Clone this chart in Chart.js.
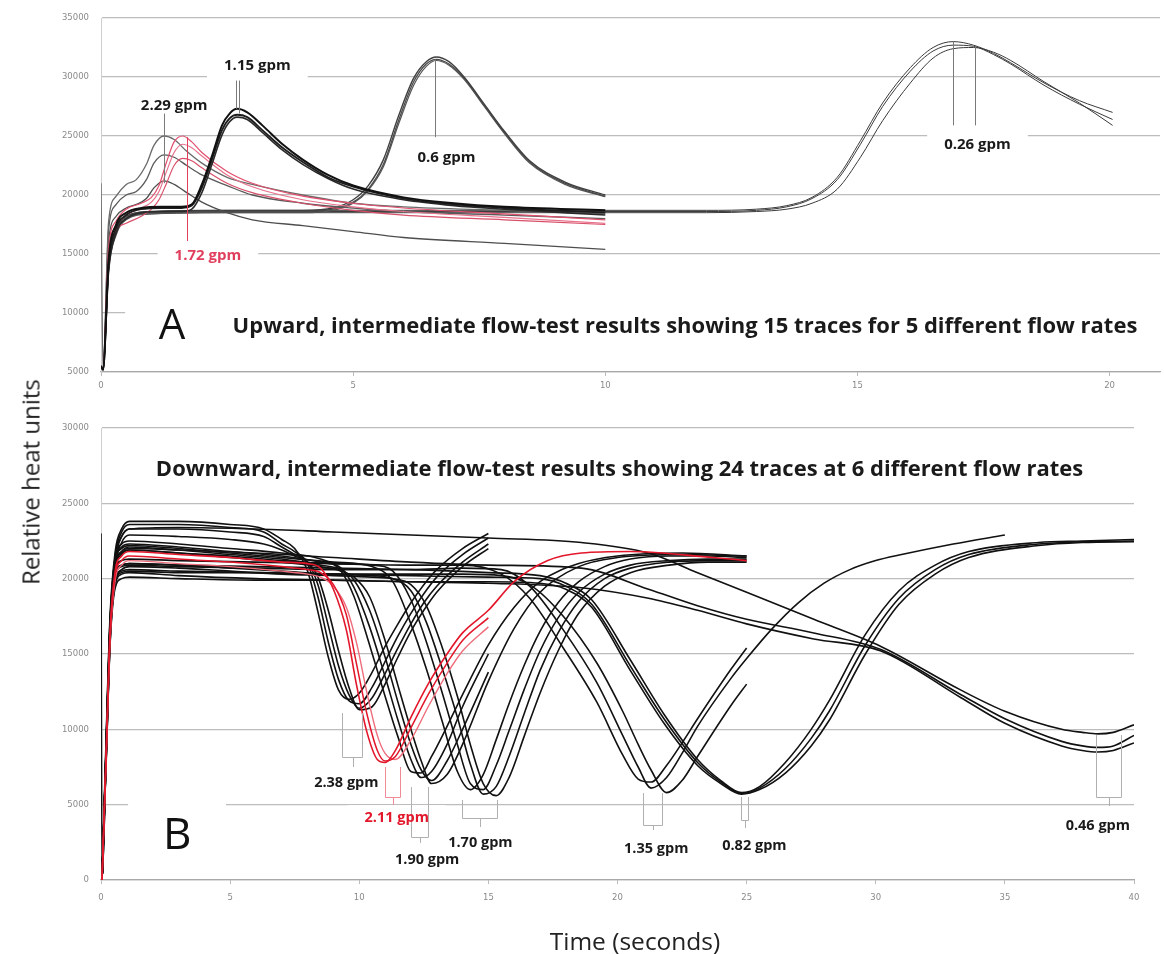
<!DOCTYPE html>
<html>
<head>
<meta charset="utf-8">
<script src="https://cdn.jsdelivr.net/npm/chart.js@4.4.1/dist/chart.umd.min.js"></script>
<style>
html,body{margin:0;padding:0;background:#fff;}
#wrap{position:relative;width:1164px;height:954px;overflow:hidden;background:#fff;}
#cTop{position:absolute;left:0;top:0;width:1164px;height:400px;}
#cBot{position:absolute;left:0;top:400px;width:1164px;height:554px;}
#ytitle{position:absolute;left:30px;top:482px;transform:translate(-50%,-50%) rotate(-90deg);font-family:'Open Sans',sans-serif;font-size:24px;color:#222;white-space:nowrap;}
#xtitle{position:absolute;left:635px;top:940px;transform:translate(-50%,-50%);font-family:'Open Sans',sans-serif;font-size:24.5px;color:#222;white-space:nowrap;}
</style>
</head>
<body>
<div id="wrap">
<canvas id="cTop" width="1164" height="400"></canvas>
<canvas id="cBot" width="1164" height="554"></canvas>
<div id="ytitle">Relative heat units</div>
<div id="xtitle">Time (seconds)</div>
</div>
<script>
// ---------------- Axis ticks ----------------
const topXTicks = [0, 5, 10, 15, 20];
const topYTicks = [5000, 10000, 15000, 20000, 25000, 30000, 35000];
const botXTicks = [0, 5, 10, 15, 20, 25, 30, 35, 40];
const botYTicks = [0, 5000, 10000, 15000, 20000, 25000, 30000];

// ---------------- Panel A: upward flow (15 traces, 5 flow rates) ----------------
const tUp229 = [0, 0.04, 0.15, 0.3, 0.5, 0.7, 0.9, 1.05, 1.25, 1.45, 1.7, 2.0, 2.5, 3.0, 4.0, 5.0, 6.0, 8.0, 10.0];
const up229a = [21000, 5200, 17700, 19900, 20900, 21300, 22600, 24200, 25000, 24700, 23700, 22700, 21500, 20900, 20000, 19300, 19000, 18700, 18400];
const up229b = [5500, 5300, 17000, 19200, 20000, 20300, 21300, 22700, 23400, 23200, 22500, 21700, 20800, 20000, 19300, 18900, 18600, 18300, 18000];
const up229c = [5500, 5200, 16000, 18200, 18900, 19200, 19700, 20600, 21200, 20900, 20200, 19400, 18500, 17900, 17400, 16900, 16400, 15900, 15400];

const tUp172 = [0, 0.04, 0.15, 0.3, 0.5, 0.8, 1.0, 1.15, 1.3, 1.45, 1.62, 1.8, 2.0, 2.5, 3.0, 4.0, 5.0, 6.0, 8.0, 10.0];
const up172a = [5500, 5200, 15500, 17800, 18800, 19300, 19800, 20800, 22800, 24500, 25000, 24500, 23600, 22000, 21000, 19900, 19300, 18900, 18400, 17900];
const up172b = [5500, 5200, 15000, 17400, 18300, 18900, 19400, 20300, 22000, 23600, 24300, 24000, 23300, 21700, 20700, 19600, 19000, 18600, 18100, 17600];
const up172c = [5500, 5200, 14500, 17000, 17600, 18200, 18800, 19600, 21000, 22500, 23100, 22900, 22300, 21000, 20200, 19300, 18700, 18300, 17900, 17500];

const tUp115 = [0, 0.04, 0.15, 0.3, 0.5, 0.8, 1.2, 1.6, 1.8, 2.0, 2.2, 2.4, 2.55, 2.7, 2.9, 3.2, 3.6, 4.0, 4.5, 5.0, 6.0, 7.0, 8.0, 10.0];
const up115a = [5500, 5200, 14500, 17500, 18500, 18900, 19000, 19000, 19200, 20900, 23300, 25900, 26900, 27300, 27000, 25900, 24300, 23000, 21700, 20800, 19800, 19300, 19000, 18700];
const up115b = [5500, 5200, 14000, 17200, 18300, 18800, 18900, 18900, 19100, 20600, 23000, 25500, 26500, 26800, 26600, 25500, 24000, 22800, 21500, 20700, 19700, 19200, 18900, 18500];
const up115c = [5500, 5200, 13500, 16800, 18000, 18500, 18600, 18600, 18800, 20200, 22600, 25100, 26200, 26600, 26400, 25300, 23800, 22600, 21400, 20500, 19600, 19100, 18800, 18300];

const tUp060 = [0, 0.04, 0.15, 0.3, 0.5, 1.0, 2.0, 3.0, 4.0, 4.6, 5.0, 5.3, 5.6, 5.9, 6.2, 6.45, 6.65, 6.9, 7.2, 7.6, 8.0, 8.5, 9.2, 10.0];
const up060a = [5500, 5200, 14000, 17000, 18200, 18600, 18700, 18700, 18700, 18900, 19600, 20800, 23000, 26700, 29900, 31300, 31700, 31300, 30000, 27700, 25400, 22900, 21100, 20000];
const up060b = [5500, 5200, 13800, 16800, 18000, 18500, 18600, 18600, 18600, 18800, 19400, 20500, 22600, 26300, 29600, 31100, 31500, 31100, 29900, 27600, 25300, 22800, 21000, 19900];
const up060c = [5500, 5200, 13500, 16600, 17900, 18400, 18500, 18500, 18500, 18700, 19300, 20400, 22400, 26000, 29300, 30900, 31400, 31000, 29800, 27500, 25200, 22700, 20900, 19850];

const tUp026 = [0, 0.04, 0.15, 0.3, 0.5, 1.0, 3, 6, 9, 12, 13, 13.6, 14.1, 14.6, 15.06, 15.5, 16.05, 16.5, 16.9, 17.3, 17.7, 18.04, 18.7, 19.4, 20.06];
const up026a = [5500, 5200, 14000, 17000, 18200, 18600, 18700, 18700, 18700, 18700, 18800, 19100, 19800, 21500, 24600, 27800, 30800, 32500, 33000, 32700, 32000, 31200, 29500, 28000, 27000];
const up026b = [5500, 5200, 13800, 16900, 18100, 18500, 18600, 18600, 18600, 18600, 18700, 19000, 19700, 21300, 24300, 27500, 30500, 32200, 32700, 32600, 31900, 31100, 29300, 27700, 26400];
const up026c = [5500, 5200, 13600, 16700, 18000, 18400, 18500, 18500, 18500, 18500, 18600, 18800, 19300, 20500, 23200, 26300, 29500, 31600, 32400, 32500, 32100, 31400, 29600, 27800, 25900];

// ---------------- Panel B: downward flow (24 traces) ----------------
const tDn238 = [0.04, 0.2, 0.35, 0.55, 0.8, 1.1, 3, 5, 6.3, 7.0, 7.5, 8.0, 8.4, 8.8, 9.2, 9.6, 10.0, 10.5, 11.0, 11.5, 12.0, 12.5, 13.0, 14.0, 15.0];
const dn238a = [0, 9500, 17500, 21800, 23300, 23800, 23800, 23600, 23300, 22600, 22000, 20500, 17800, 14800, 12600, 12000, 12400, 13800, 15500, 17000, 18400, 19600, 20600, 22000, 23000];
const dn238b = [0, 9000, 17000, 21500, 23100, 23600, 23600, 23400, 23100, 22300, 21800, 21000, 18800, 15800, 13300, 11900, 11700, 12800, 14500, 16200, 17700, 19000, 20100, 21600, 22700];
const dn238c = [0, 8800, 16800, 21200, 22800, 23300, 23300, 23100, 22800, 22100, 21600, 21100, 19600, 16900, 14200, 12300, 11400, 12100, 13700, 15400, 17000, 18400, 19500, 21100, 22300];
const dn238d = [0, 8500, 16500, 20900, 22400, 22900, 22800, 22600, 22300, 21900, 21500, 21100, 20100, 17900, 15200, 12800, 11300, 11500, 13000, 14800, 16500, 17900, 19100, 20800, 22000];

const tDn211 = [0.04, 0.2, 0.35, 0.55, 0.8, 1.1, 3, 5, 7, 8.0, 8.5, 9.0, 9.5, 9.9, 10.3, 10.7, 11.0, 11.4, 12.0, 12.7, 13.4, 14.0, 15.0, 16.0, 17.3, 18.6, 20.5, 23.7, 25.0];
const dn211a = [0, 8500, 16500, 20500, 21500, 21800, 21600, 21400, 21100, 21000, 20700, 19300, 16600, 12900, 9800, 8000, 7800, 8600, 10800, 13100, 15000, 16400, 17900, 19800, 21200, 21700, 21800, 21400, 21200];
const dn211b = [0, 8200, 16000, 20200, 21200, 21500, 21300, 21100, 20800, 20600, 20400, 19600, 17600, 14300, 11000, 8600, 7900, 8200, 10100, 12400, 14400, 15900, 17400];
const dn211c = [0, 8000, 15800, 19900, 20900, 21200, 21000, 20800, 20500, 20300, 20100, 19500, 18100, 15700, 12400, 9600, 8400, 8000, 9300, 11600, 13700, 15200, 16800];

const tDn190 = [0.04, 0.2, 0.35, 0.55, 0.8, 1.1, 3, 5, 7, 8.5, 9.3, 9.8, 10.4, 11.0, 11.5, 12.0, 12.4, 12.8, 13.4, 14.0, 15.0, 16.0, 17.0, 18.5, 20.0, 22.5, 25.0];
const dn190a = [0, 9000, 17000, 21300, 22300, 22500, 22300, 22000, 21700, 21300, 20500, 18800, 15600, 12200, 9500, 7200, 7100, 8200, 10200, 12300, 15600, 18100, 19800, 21000, 21500, 21700, 21500];
const dn190b = [0, 8800, 16800, 21000, 22100, 22300, 22100, 21800, 21500, 21100, 20700, 19400, 16800, 13500, 10600, 8000, 6800, 7200, 9000, 11500, 15000];
const dn190c = [0, 8600, 16500, 20800, 21800, 22100, 21900, 21600, 21300, 20900, 20600, 19900, 17900, 14800, 11800, 9000, 7300, 6600, 7900, 10000, 13800];
const dn190d = [0, 8400, 16300, 20600, 21600, 21900, 21700, 21400, 21100, 20800, 20500, 20100, 18800, 15900, 12900, 10000, 7900, 6400, 7000, 9000, 13200, 16700, 19100, 20800, 21400, 21600, 21500];

const tDn170 = [0.04, 0.2, 0.35, 0.55, 0.8, 1.1, 3, 5, 7, 9, 10.5, 11.3, 12.0, 12.6, 13.2, 13.8, 14.3, 14.8, 15.3, 15.8, 16.4, 17.0, 17.7, 18.5, 19.5, 20.5, 22.0, 23.5, 25.0];
const dn170a = [0, 8700, 16800, 21100, 22000, 22200, 22000, 21700, 21400, 21100, 20800, 19800, 17000, 14000, 10600, 7200, 6000, 7000, 9300, 11700, 14300, 16500, 18400, 19800, 20800, 21300, 21500, 21500, 21400];
const dn170b = [0, 8500, 16500, 20800, 21700, 21900, 21700, 21500, 21200, 21000, 20900, 20500, 18600, 15800, 12500, 9000, 6400, 6000, 7600, 9900, 12700, 15200, 17400, 19100, 20300, 20900, 21200, 21300, 21300];
const dn170c = [0, 8200, 16000, 20000, 20900, 21000, 20900, 20700, 20500, 20300, 20200, 20000, 19200, 17100, 14100, 10800, 7700, 5700, 6200, 8200, 11100, 13900, 16400, 18500, 20000, 20700, 21100, 21200, 21200];
const dn170d = [0, 8000, 15700, 19800, 20600, 20800, 20700, 20500, 20300, 20200, 20100, 20000, 19600, 18200, 15500, 12200, 9000, 6400, 5600, 6800, 9600, 12400, 15200, 17700, 19500, 20400, 20900, 21100, 21100];

const tDn135 = [0.04, 0.2, 0.35, 0.55, 0.8, 1.1, 3, 6, 9, 12, 14, 15.5, 16.6, 17.9, 19.2, 20.2, 20.8, 21.3, 21.9, 22.5, 23.1, 24.4, 25.0, 26.0, 27.0, 28.0, 29.0, 30.0, 31.0, 33.0, 35.0];
const dn135a = [0, 8600, 16600, 20600, 21200, 21300, 21200, 21100, 21000, 20900, 20900, 20300, 18700, 15400, 11800, 8300, 6700, 6500, 7600, 9100, 10700, 14000, 15400];
const dn135b = [0, 8300, 16200, 20200, 20800, 20900, 20800, 20700, 20600, 20600, 20700, 20600, 19500, 16600, 13100, 9600, 7500, 6100, 6800, 8400, 10200, 13400, 14700, 16700, 18400, 19700, 20600, 21200, 21600, 22300, 22900];
const dn135c = [0, 8000, 15800, 19800, 20400, 20500, 20400, 20400, 20300, 20300, 20300, 20200, 19600, 17500, 14400, 11200, 9000, 7300, 5800, 6600, 8200, 11600, 13000];

const tDn082 = [0.04, 0.2, 0.35, 0.55, 0.8, 1.1, 3, 6, 9, 12, 15, 17, 18, 19, 20.5, 21.8, 23.1, 24.0, 24.8, 25.5, 26.5, 27.5, 28.2, 29.6, 30.9, 32.3, 33.6, 36.3, 38, 40];
const dn082a = [0, 8400, 16400, 20300, 20900, 21000, 20900, 20800, 20700, 20600, 20400, 20200, 19700, 18600, 14600, 11000, 8000, 6600, 5800, 6200, 7800, 10000, 11900, 16300, 19200, 20900, 21800, 22400, 22500, 22600];
const dn082b = [0, 8100, 16000, 19900, 20500, 20600, 20500, 20400, 20300, 20200, 20100, 20000, 19500, 18300, 14200, 10700, 7800, 6500, 5750, 6100, 7400, 9400, 11200, 15600, 18700, 20600, 21600, 22300, 22450, 22500];
const dn082c = [0, 7800, 15600, 19400, 20000, 20100, 20000, 19900, 19900, 19800, 19800, 19700, 19300, 18100, 13900, 10400, 7600, 6400, 5700, 6000, 7100, 8900, 10600, 15000, 18300, 20300, 21400, 22200, 22400, 22450];

const tDn046 = [0, 0.04, 0.2, 0.35, 0.55, 0.8, 1.1, 3, 6, 9, 12, 15, 18.6, 21.2, 23.1, 25, 27.6, 30.2, 33.3, 35, 37.2, 38, 38.6, 39.2, 40];
const dn046a = [23000, 0, 9200, 17200, 21500, 22800, 23300, 23400, 23300, 23100, 22900, 22700, 22400, 21700, 20400, 19100, 17300, 15500, 12600, 11200, 10000, 9800, 9700, 9800, 10300];
const dn046b = [0, 0, 8800, 16800, 20800, 21800, 22000, 21900, 21700, 21400, 21100, 20900, 20700, 19300, 18200, 17300, 16400, 15300, 12300, 10700, 9200, 8900, 8800, 8900, 9600];
const dn046c = [0, 0, 8400, 16200, 19600, 20300, 20400, 20200, 20000, 19900, 19800, 19700, 19400, 18700, 17900, 17000, 16000, 15200, 12100, 10400, 8900, 8600, 8500, 8600, 9100];

// ---------------- Annotations ----------------
const topLabelText = ['2.29 gpm', '1.15 gpm', '1.72 gpm', '0.6 gpm', '0.26 gpm'];
const topLabelX = [1.45, 3.10, 2.12, 6.85, 17.38];
const topLabelY = [27540, 30930, 14830, 23130, 24240];
const topLeaderX = [1.25, 2.67, 2.73, 1.71, 6.63, 16.9, 17.34];
const topLeaderY0 = [26900, 29700, 29700, 24900, 31500, 33000, 32600];
const topLeaderY1 = [21000, 27300, 26900, 16100, 24900, 25900, 25900];

const botLabelText = ['2.38 gpm', '2.11 gpm', '1.90 gpm', '1.70 gpm', '1.35 gpm', '0.82 gpm', '0.46 gpm'];
const botLabelX = [9.5, 11.45, 12.63, 14.69, 21.5, 25.3, 38.6];
const botLabelY = [6440, 4110, 1330, 2460, 2060, 2260, 3580];
const botBracketX0 = [9.34, 11.01, 12.02, 13.99, 21.0, 24.77, 38.53];
const botBracketX1 = [10.12, 11.59, 12.67, 15.35, 21.74, 25.04, 39.5];
const botBracketTop = [11080, 7500, 6170, 5310, 5770, 5510, 9620];
const botBracketBot = [8160, 5510, 2850, 4110, 3650, 3980, 5510];
const botBracketStem = [7500, 4980, 2460, 3520, 3320, 3450, 4910];

const titleA = 'Upward, intermediate flow-test results showing 15 traces for 5 different flow rates';
const titleB = 'Downward, intermediate flow-test results showing 24 traces at 6 different flow rates';

// ---------------- Helpers ----------------
const RED = '#e3172b';
function series(times, vals, color, width) {
  return {
    data: vals.map((v, i) => ({ x: times[i], y: v })),
    borderColor: color, borderWidth: width, pointRadius: 0, fill: false,
    cubicInterpolationMode: 'monotone'
  };
}

const tickFont = { family: 'DejaVu Sans', size: 8.5 };
const tickColor = '#8a8a8a';

function scales(xMax, xTicks, yMin, yMax, yTicks, xAxisH, xPad) {
  return {
    x: {
      type: 'linear', min: 0, max: xMax,
      afterBuildTicks: s => { s.ticks = xTicks.map(v => ({ value: v })); },
      ticks: { font: tickFont, color: tickColor, padding: xPad, maxRotation: 0, autoSkip: false },
      grid: { drawOnChartArea: false, drawTicks: true, tickLength: 4, color: '#bbbbbb' },
      border: { display: true, color: '#a8a8a8', width: 1.2 },
      afterFit: s => { s.height = xAxisH; }
    },
    y: {
      type: 'linear', min: yMin, max: yMax,
      afterBuildTicks: s => { s.ticks = yTicks.map(v => ({ value: v })); },
      ticks: { font: tickFont, color: tickColor, padding: 12, callback: v => String(v) },
      grid: { color: '#bdbdbd', lineWidth: 1.3, drawTicks: false },
      border: { display: true, color: '#cfcfcf', width: 1 },
      afterFit: s => { s.width = 101; }
    }
  };
}

function makeAnnot(cfg) {
  return {
    id: 'annot' + cfg.name,
    beforeDatasetsDraw(chart) {
      const ctx = chart.ctx, xs = chart.scales.x, ys = chart.scales.y;
      const px = v => xs.getPixelForValue(v), py = v => ys.getPixelForValue(v);
      ctx.save();
      ctx.fillStyle = '#ffffff';
      cfg.boxes.forEach(b => {
        const x1 = px(b[0]), x2 = px(b[1]), y1 = py(b[2]), y2 = py(b[3]);
        ctx.fillRect(Math.min(x1, x2), Math.min(y1, y2), Math.abs(x2 - x1), Math.abs(y2 - y1));
      });
      ctx.font = cfg.labelFont;
      cfg.labels.forEach(l => {
        const w = ctx.measureText(l.text).width + 34;
        ctx.fillRect(px(l.x) - w / 2, py(l.y) - 13, w, 26);
      });
      ctx.restore();
    },
    afterDatasetsDraw(chart) {
      const ctx = chart.ctx, xs = chart.scales.x, ys = chart.scales.y;
      const px = v => xs.getPixelForValue(v), py = v => ys.getPixelForValue(v);
      ctx.save();
      ctx.lineWidth = 1;
      cfg.leaders.forEach(l => {
        ctx.strokeStyle = l.color;
        ctx.beginPath();
        ctx.moveTo(Math.round(px(l.x)) + 0.5, py(l.y0));
        ctx.lineTo(Math.round(px(l.x)) + 0.5, py(l.y1));
        ctx.stroke();
      });
      cfg.brackets.forEach(b => {
        const xl = Math.round(px(b.x0)) + 0.5, xr = Math.round(px(b.x1)) + 0.5;
        const yt = py(b.top), yb = Math.round(py(b.bot)) + 0.5, ysm = py(b.stem);
        const xm = Math.round((xl + xr) / 2) + 0.5;
        ctx.strokeStyle = b.color;
        ctx.beginPath();
        ctx.moveTo(xl, yt); ctx.lineTo(xl, yb); ctx.lineTo(xr, yb); ctx.lineTo(xr, yt);
        ctx.moveTo(xm, yb); ctx.lineTo(xm, ysm);
        ctx.stroke();
      });
      ctx.textAlign = 'center';
      ctx.textBaseline = 'middle';
      ctx.font = cfg.labelFont;
      cfg.labels.forEach(l => {
        ctx.fillStyle = l.color;
        ctx.fillText(l.text, px(l.x), py(l.y));
      });
      // big panel letter
      ctx.fillStyle = '#111';
      ctx.font = cfg.letterFont;
      ctx.fillText(cfg.letter.text, px(cfg.letter.x), py(cfg.letter.y));
      // title fitted to its width
      ctx.font = "bold 20px 'Open Sans'";
      const w = ctx.measureText(cfg.title.text).width;
      const size = 20 * cfg.title.width / w;
      ctx.font = "bold " + size.toFixed(2) + "px 'Open Sans'";
      ctx.fillStyle = '#1a1a1a';
      ctx.fillText(cfg.title.text, px(cfg.title.x), py(cfg.title.y));
      ctx.restore();
    }
  };
}

// ---------------- Panel A ----------------
const topDatasets = [
  series(tUp115, up115a, '#111111', 2.0),
  series(tUp115, up115b, '#1e1e1e', 1.8),
  series(tUp115, up115c, '#2a2a2a', 1.6),
  series(tUp172, up172a, '#e2506e', 1.2),
  series(tUp172, up172b, '#e8738d', 1.2),
  series(tUp172, up172c, '#d9506a', 1.2),
  series(tUp229, up229a, '#6a6a6a', 1.3),
  series(tUp229, up229b, '#5a5a5a', 1.3),
  series(tUp229, up229c, '#4e4e4e', 1.3),
  series(tUp060, up060a, '#404040', 1.4),
  series(tUp060, up060b, '#4a4a4a', 1.3),
  series(tUp060, up060c, '#555555', 1.2),
  series(tUp026, up026a, '#3a3a3a', 1.0),
  series(tUp026, up026b, '#3a3a3a', 1.0),
  series(tUp026, up026c, '#3a3a3a', 1.0)
];

const topCfg = {
  name: 'Top',
  labelFont: "bold 15px 'Open Sans'",
  letterFont: "42px 'Open Sans'",
  boxes: [[0.48, 21, 11700, 7000]],
  labels: topLabelText.map((t, i) => ({ text: t, x: topLabelX[i], y: topLabelY[i], color: t === '1.72 gpm' ? '#e0405e' : '#1a1a1a' })),
  leaders: topLeaderX.map((x, i) => ({ x: x, y0: topLeaderY0[i], y1: topLeaderY1[i], color: i === 3 ? '#e0405e' : '#7a7a7a' })),
  brackets: [],
  letter: { text: 'A', x: 1.41, y: 8810 },
  title: { text: titleA, x: 11.58, y: 8810, width: 905 }
};

new Chart(document.getElementById('cTop'), {
  type: 'line',
  data: { datasets: topDatasets },
  options: {
    responsive: false, animation: false, devicePixelRatio: 1,
    layout: { padding: { top: 18, right: 4, left: 0, bottom: 0 } },
    plugins: { legend: { display: false }, tooltip: { enabled: false } },
    scales: scales(21, topXTicks, 5000, 35000, topYTicks, 28, 5)
  },
  plugins: [makeAnnot(topCfg)]
});

// ---------------- Panel B ----------------
const botDatasets = [
  series(tDn211, dn211a, RED, 1.6),
  series(tDn211, dn211b, RED, 1.5),
  series(tDn211, dn211c, '#ee6d7c', 1.4),
  series(tDn238, dn238a, '#111', 1.6),
  series(tDn238, dn238b, '#111', 1.6),
  series(tDn238, dn238c, '#111', 1.6),
  series(tDn238, dn238d, '#111', 1.6),
  series(tDn190, dn190a, '#111', 1.6),
  series(tDn190, dn190b, '#111', 1.6),
  series(tDn190, dn190c, '#111', 1.6),
  series(tDn190, dn190d, '#111', 1.6),
  series(tDn170, dn170a, '#111', 1.6),
  series(tDn170, dn170b, '#111', 1.6),
  series(tDn170, dn170c, '#111', 1.6),
  series(tDn170, dn170d, '#111', 1.6),
  series(tDn135, dn135a, '#111', 1.6),
  series(tDn135, dn135b, '#111', 1.6),
  series(tDn135, dn135c, '#111', 1.6),
  series(tDn082, dn082a, '#111', 1.6),
  series(tDn082, dn082b, '#111', 1.6),
  series(tDn082, dn082c, '#111', 1.6),
  series(tDn046, dn046a, '#111', 1.6),
  series(tDn046, dn046b, '#111', 1.6),
  series(tDn046, dn046c, '#111', 1.6)
];

const botCfg = {
  name: 'Bot',
  labelFont: "bold 14.5px 'Open Sans'",
  letterFont: "44px 'Open Sans'",
  boxes: [[1.05, 4.84, 5640, 800]],
  labels: botLabelText.map((t, i) => ({ text: t, x: botLabelX[i], y: botLabelY[i], color: t === '2.11 gpm' ? RED : '#1a1a1a' })),
  leaders: [],
  brackets: botBracketX0.map((x, i) => ({ x0: x, x1: botBracketX1[i], top: botBracketTop[i], bot: botBracketBot[i], stem: botBracketStem[i], color: i === 1 ? '#ef8a96' : '#b0b0b0' })),
  letter: { text: 'B', x: 2.95, y: 2920 },
  title: { text: titleB, x: 20.08, y: 27210, width: 928 }
};

new Chart(document.getElementById('cBot'), {
  type: 'line',
  data: { datasets: botDatasets },
  options: {
    responsive: false, animation: false, devicePixelRatio: 1,
    layout: { padding: { top: 28, right: 30, left: 0, bottom: 0 } },
    plugins: { legend: { display: false }, tooltip: { enabled: false } },
    scales: scales(40, botXTicks, 0, 30000, botYTicks, 74, 9)
  },
  plugins: [makeAnnot(botCfg)]
});
</script>
</body>
</html>
